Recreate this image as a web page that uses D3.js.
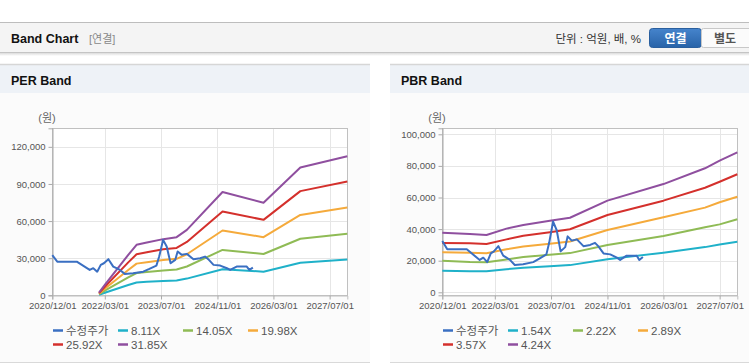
<!DOCTYPE html>
<html>
<head>
<meta charset="utf-8">
<script src="https://cdn.jsdelivr.net/npm/d3@7"></script>
<style>
  html, body { margin: 0; padding: 0; background: #ffffff; }
  svg { display: block; }
  text { font-family: "Liberation Sans", Arial, "Noto Sans CJK KR", sans-serif; }
</style>
</head>
<body>
<svg id="chart" width="749" height="364"></svg>
<script>
// ---------------- DATA ----------------
const xTickLabels = ["2020/12/01", "2022/03/01", "2023/07/01", "2024/11/01", "2026/03/01", "2027/07/01"];
const perYTicks = [0, 30000, 60000, 90000, 120000];
const pbrYTicks = [0, 20000, 40000, 60000, 80000, 100000];

const priceDates = ["2020-12-01","2021-01-13","2021-07-01","2021-10-21","2021-11-21","2021-12-25","2022-01-25",
  "2022-02-21","2022-04-01","2022-05-13","2022-06-10","2022-07-10","2022-08-21","2022-11-01","2023-01-28",
  "2023-03-22","2023-05-22","2023-06-15","2023-07-19","2023-08-19","2023-09-22","2023-11-01","2023-11-22",
  "2023-12-28","2024-02-10","2024-04-07","2024-06-04","2024-07-16","2024-08-13","2024-09-28","2024-11-25",
  "2025-01-22","2025-02-19","2025-04-16","2025-07-13","2025-08-04","2025-09-04"];
const priceValues = [32500, 27200, 27200, 20500, 21900, 19100, 24600,
  25900, 29200, 23200, 21900, 20500, 17300, 17800, 19100,
  21300, 24000, 31300, 44800, 39400, 25900, 28600, 35400,
  32700, 33500, 29200, 30000, 31300, 29200, 24600, 24000,
  21900, 20500, 23200, 23200, 20500, 22400];

const perBandDates = ["2022-01-10","2022-03-01","2022-09-20","2022-12-01","2023-02-28","2023-07-20","2023-11-13",
  "2024-02-10","2024-12-15","2025-12-05","2026-10-20","2027-12-01"];
const perLabels = ["수정주가", "8.11X", "14.05X", "19.98X", "25.92X", "31.85X"];
const perBand1 = [500, 2100, 8300, 10400, 10900, 11600, 12000, 13500, 21100, 19100, 26300, 29000];
const perBand2 = [900, 3700, 14400, 18000, 18800, 20000, 20800, 23300, 36700, 33400, 45700, 49700];
const perBand3 = [1300, 5300, 20500, 25600, 26800, 28500, 29500, 33200, 52400, 47000, 65000, 71000];
const perBand4 = [1700, 6900, 26600, 33200, 34800, 37300, 38300, 43100, 67800, 61000, 84200, 92000];
const perBand5 = [2100, 8500, 32700, 40800, 42700, 45400, 47000, 52900, 83500, 74800, 103300, 112400];

const pbrBandDates = ["2020-12-01","2021-07-28","2021-12-19","2022-06-10","2022-11-03","2023-06-21","2023-12-12",
  "2024-11-01","2026-03-01","2027-02-24","2027-07-01","2027-12-01"];
const pbrLabels = ["수정주가", "1.54X", "2.22X", "2.89X", "3.57X", "4.24X"];
const pbrBand1 = [13600, 13400, 13300, 14600, 15500, 16500, 17200, 20900, 25100, 28600, 30300, 32000];
const pbrBand2 = [20000, 19200, 19000, 20800, 22300, 23800, 24800, 29900, 35600, 41200, 43000, 46200];
const pbrBand3 = [25300, 25100, 24700, 27200, 29000, 30800, 32200, 39400, 47500, 53600, 57000, 60500];
const pbrBand4 = [31200, 31000, 30600, 33500, 35800, 38000, 39900, 48900, 58000, 66200, 70000, 74700];
const pbrBand5 = [37700, 36900, 36300, 40300, 42600, 45300, 47200, 58000, 68500, 78500, 83300, 88600];

// ---------------- STYLE ----------------
const colors = ["#3a6fc2", "#1fb1c9", "#8fbb55", "#f5aa3b", "#d4302c", "#8f4f9f"];
const parse = d3.timeParse("%Y-%m-%d");
const parseTick = d3.timeParse("%Y/%m/%d");
const fmtTick = d3.timeFormat("%Y/%m/%d");

const svg = d3.select("#chart");

// ---------- header ----------
const defs = svg.append("defs");
const sh = defs.append("linearGradient").attr("id", "shadow").attr("x1", 0).attr("x2", 0).attr("y1", 0).attr("y2", 1);
sh.append("stop").attr("offset", "0%").attr("stop-color", "#d0d0d0");
sh.append("stop").attr("offset", "100%").attr("stop-color", "#ffffff");
const bg = defs.append("linearGradient").attr("id", "btn").attr("x1", 0).attr("x2", 0).attr("y1", 0).attr("y2", 1);
bg.append("stop").attr("offset", "0%").attr("stop-color", "#4684cc");
bg.append("stop").attr("offset", "100%").attr("stop-color", "#2863a8");

svg.append("rect").attr("x", 0).attr("y", 22).attr("width", 749).attr("height", 31).attr("fill", "#f4f4f4");
svg.append("line").attr("x1", 0).attr("x2", 749).attr("y1", 22.5).attr("y2", 22.5).attr("stroke", "#bdbdbd");
svg.append("rect").attr("x", 0).attr("y", 52).attr("width", 749).attr("height", 4).attr("fill", "url(#shadow)");
svg.append("line").attr("x1", 0).attr("x2", 749).attr("y1", 52.5).attr("y2", 52.5).attr("stroke", "#c4c4c4");

svg.append("text").attr("x", 11).attr("y", 43).attr("font-size", 12.5).attr("font-weight", "bold")
  .attr("fill", "#111").text("Band Chart");
svg.append("text").attr("x", 89).attr("y", 43).attr("font-size", 11).attr("fill", "#888")
  .attr("font-family", "'Noto Sans CJK KR', sans-serif").text("[연결]");
svg.append("text").attr("x", 641).attr("y", 43).attr("font-size", 11.5).attr("fill", "#333").attr("text-anchor", "end")
  .attr("font-family", "'Noto Sans CJK KR', sans-serif").text("단위 : 억원, 배, %");
svg.append("rect").attr("x", 649.5).attr("y", 28.5).attr("width", 52).attr("height", 19).attr("rx", 3)
  .attr("fill", "url(#btn)").attr("stroke", "#2a5f9e");
svg.append("text").attr("x", 675.5).attr("y", 42.5).attr("font-size", 12).attr("font-weight", "bold").attr("fill", "#fff")
  .attr("text-anchor", "middle").attr("font-family", "'Noto Sans CJK KR', sans-serif").text("연결");
svg.append("rect").attr("x", 701.5).attr("y", 28.5).attr("width", 52).attr("height", 19).attr("rx", 2)
  .attr("fill", "#fbfbfb").attr("stroke", "#c8c8c8");
svg.append("text").attr("x", 725).attr("y", 42.5).attr("font-size", 12).attr("font-weight", "bold").attr("fill", "#555")
  .attr("text-anchor", "middle").attr("font-family", "'Noto Sans CJK KR', sans-serif").text("별도");

// ---------- panel builder ----------
function panel(opts) {
  const px = opts.x;
  const g = svg.append("g");
  g.append("rect").attr("x", px).attr("y", 64).attr("width", opts.w).attr("height", 29).attr("fill", "#eef2f7");
  g.append("line").attr("x1", px).attr("x2", px + opts.w).attr("y1", 64.5).attr("y2", 64.5).attr("stroke", "#d6d6d6").attr("stroke-width", 1.5);
  g.append("rect").attr("x", px).attr("y", 93).attr("width", opts.w).attr("height", 269).attr("fill", "#fbfbfb");
  g.append("line").attr("x1", px).attr("x2", px + opts.w).attr("y1", 362.5).attr("y2", 362.5).attr("stroke", "#d9d9d9");
  g.append("text").attr("x", px + 11).attr("y", 84.5).attr("font-size", 12.5).attr("font-weight", "bold")
    .attr("fill", "#111").text(opts.title);

  const left = px + 52.3, right = px + 347.3, top = 128.3, bottom = 295.3;
  const x = d3.scaleTime().domain([parse("2020-12-01"), parse("2027-12-01")]).range([left, right]);
  const y = d3.scaleLinear().domain(opts.yDomain).range([bottom, top]);

  g.append("rect").attr("x", left).attr("y", top).attr("width", right - left).attr("height", bottom - top).attr("fill", "#ffffff");

  const tickDates = xTickLabels.map(parseTick);
  // gridlines
  g.selectAll(null).data(tickDates).enter().append("line")
    .attr("x1", d => Math.round(x(d)) + 0.5).attr("x2", d => Math.round(x(d)) + 0.5)
    .attr("y1", top).attr("y2", bottom).attr("stroke", "#e6e6e6");
  g.selectAll(null).data(opts.yTicks).enter().append("line")
    .attr("x1", left).attr("x2", right)
    .attr("y1", d => Math.round(y(d)) + 0.5).attr("y2", d => Math.round(y(d)) + 0.5).attr("stroke", "#e6e6e6");
  // frame
  g.append("rect").attr("x", Math.round(left) + 0.5).attr("y", Math.round(top) + 0.5)
    .attr("width", Math.round(right - left)).attr("height", Math.round(bottom - top))
    .attr("fill", "none").attr("stroke", "#c0c0c0");

  // axes
  const yAxis = d3.axisLeft(y).tickValues(opts.yTicks).tickSize(4).tickPadding(3).tickFormat(d3.format(","));
  const ya = g.append("g").attr("transform", `translate(${Math.round(left) + 0.5},0)`).call(yAxis);
  const xAxis = d3.axisBottom(x).tickValues(tickDates).tickSize(4).tickPadding(3).tickFormat(fmtTick);
  const xa = g.append("g").attr("transform", `translate(0,${Math.round(bottom) + 0.5})`).call(xAxis);
  [ya, xa].forEach(a => {
    a.select(".domain").attr("stroke", "#aaaaaa");
    a.selectAll(".tick line").attr("stroke", "#aaaaaa");
    a.selectAll(".tick text").attr("fill", "#555").attr("font-size", 9.5)
      .attr("font-family", "'Liberation Sans', Arial, sans-serif");
  });
  xa.select(".domain").attr("stroke", "#c0c0c0");

  g.append("text").attr("x", px + 47).attr("y", 122).attr("font-size", 11).attr("fill", "#666")
    .attr("text-anchor", "middle").attr("font-family", "'Noto Sans CJK KR', sans-serif").text("(원)");

  // series
  const line = d3.line().x(d => x(d[0])).y(d => y(d[1]));
  const bandDates = opts.bandDates.map(parse);
  opts.bands.forEach((vals, i) => {
    g.append("path").datum(vals.map((v, j) => [bandDates[j], v]))
      .attr("d", line).attr("fill", "none").attr("stroke", colors[i + 1]).attr("stroke-width", 2)
      .attr("stroke-linejoin", "round");
  });
  const pDates = priceDates.map(parse);
  g.append("path").datum(priceValues.map((v, j) => [pDates[j], v]))
    .attr("d", line).attr("fill", "none").attr("stroke", colors[0]).attr("stroke-width", 2)
    .attr("stroke-linejoin", "round");

  // legend
  opts.labels.forEach((lab, i) => {
    const col = i % 4, row = Math.floor(i / 4);
    const lx = px + 53 + col * 65, ly = 330 + row * 14;
    g.append("line").attr("x1", lx).attr("x2", lx + 10).attr("y1", ly + 0.5).attr("y2", ly + 0.5)
      .attr("stroke", colors[i]).attr("stroke-width", 2.5);
    g.append("text").attr("x", lx + 13).attr("y", ly + 4.5).attr("font-size", 11.5).attr("fill", "#555")
      .attr("font-family", i === 0 ? "'Noto Sans CJK KR', sans-serif" : "'Liberation Sans', Arial, sans-serif")
      .text(lab);
  });
}

panel({ x: 0, w: 370, title: "PER Band", yDomain: [0, 135000], yTicks: perYTicks,
  bandDates: perBandDates, bands: [perBand1, perBand2, perBand3, perBand4, perBand5], labels: perLabels });
panel({ x: 390, w: 359, title: "PBR Band", yDomain: [-1900, 103800], yTicks: pbrYTicks,
  bandDates: pbrBandDates, bands: [pbrBand1, pbrBand2, pbrBand3, pbrBand4, pbrBand5], labels: pbrLabels });
</script>
</body>
</html>
